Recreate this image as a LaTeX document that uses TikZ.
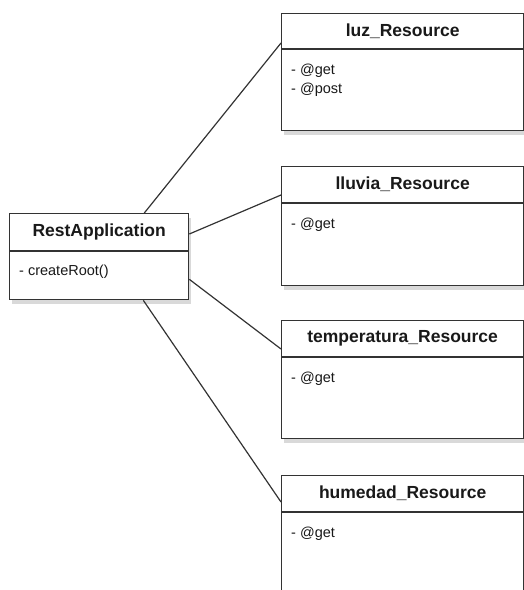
\documentclass[tikz,border=0pt]{standalone}
\usepackage{fontspec}
\setmainfont{Liberation Sans}
\usetikzlibrary{shadows}
\definecolor{umlline}{HTML}{333333}
\tikzstyle{cls}=[draw=umlline,line width=1.3pt,fill=white,anchor=north west,inner sep=0pt,drop shadow={shadow xshift=2pt,shadow yshift=-4pt,opacity=.3}]
\tikzstyle{ttl}=[font=\fontsize{17.5}{20}\selectfont\bfseries,text=black!90,inner sep=0pt]
\tikzstyle{mbr}=[font=\fontsize{14.5}{16}\selectfont,text=black!90,anchor=base west,inner sep=0pt]
\tikzstyle{sep}=[draw=umlline,line width=1.3pt]
\tikzstyle{lnk}=[draw=umlline,line width=1.2pt]

\begin{document}
\begin{tikzpicture}[x=1pt,y=-1pt]
\useasboundingbox (0,0) rectangle (524,590);
\node[cls,minimum width=179pt,minimum height=86pt] (rest) at (9,213) {};
\node[ttl] (rest-t) at ([yshift=-19pt]rest.north) {RestApplication};
\draw[sep] ([yshift=-38pt]rest.north west) -- ([yshift=-38pt]rest.north east);
\node[mbr] (rest-m1) at ([xshift=10pt,yshift=-62pt]rest.north west) {- createRoot()};

\node[cls,minimum width=242pt,minimum height=117pt] (luz) at (281,13) {};
\node[ttl] (luz-t) at ([yshift=-18pt]luz.north) {luz\_Resource};
\draw[sep] ([yshift=-36pt]luz.north west) -- ([yshift=-36pt]luz.north east);
\node[mbr] (luz-m1) at ([xshift=10pt,yshift=-61pt]luz.north west) {- @get};
\node[mbr] (luz-m2) at ([xshift=10pt,yshift=-80pt]luz.north west) {- @post};

\node[cls,minimum width=242pt,minimum height=119pt] (lluvia) at (281,166) {};
\node[ttl] (lluvia-t) at ([yshift=-18pt]lluvia.north) {lluvia\_Resource};
\draw[sep] ([yshift=-37pt]lluvia.north west) -- ([yshift=-37pt]lluvia.north east);
\node[mbr] (lluvia-m1) at ([xshift=10pt,yshift=-62pt]lluvia.north west) {- @get};

\node[cls,minimum width=242pt,minimum height=118pt] (temp) at (281,320) {};
\node[ttl] (temp-t) at ([yshift=-18pt]temp.north) {temperatura\_Resource};
\draw[sep] ([yshift=-37pt]temp.north west) -- ([yshift=-37pt]temp.north east);
\node[mbr] (temp-m1) at ([xshift=10pt,yshift=-62pt]temp.north west) {- @get};

\node[cls,minimum width=242pt,minimum height=118pt] (hum) at (281,475) {};
\node[ttl] (hum-t) at ([yshift=-18pt]hum.north) {humedad\_Resource};
\draw[sep] ([yshift=-37pt]hum.north west) -- ([yshift=-37pt]hum.north east);
\node[mbr] (hum-m1) at ([xshift=10pt,yshift=-62pt]hum.north west) {- @get};

\draw[lnk] ([xshift=-45pt]rest.north east) -- ([yshift=-30pt]luz.north west);
\draw[lnk] ([yshift=-21pt]rest.north east) -- ([yshift=-29pt]lluvia.north west);
\draw[lnk] ([yshift=21pt]rest.south east) -- ([yshift=-29pt]temp.north west);
\draw[lnk] ([xshift=-46pt]rest.south east) -- ([yshift=-27pt]hum.north west);
\end{tikzpicture}
\end{document}
